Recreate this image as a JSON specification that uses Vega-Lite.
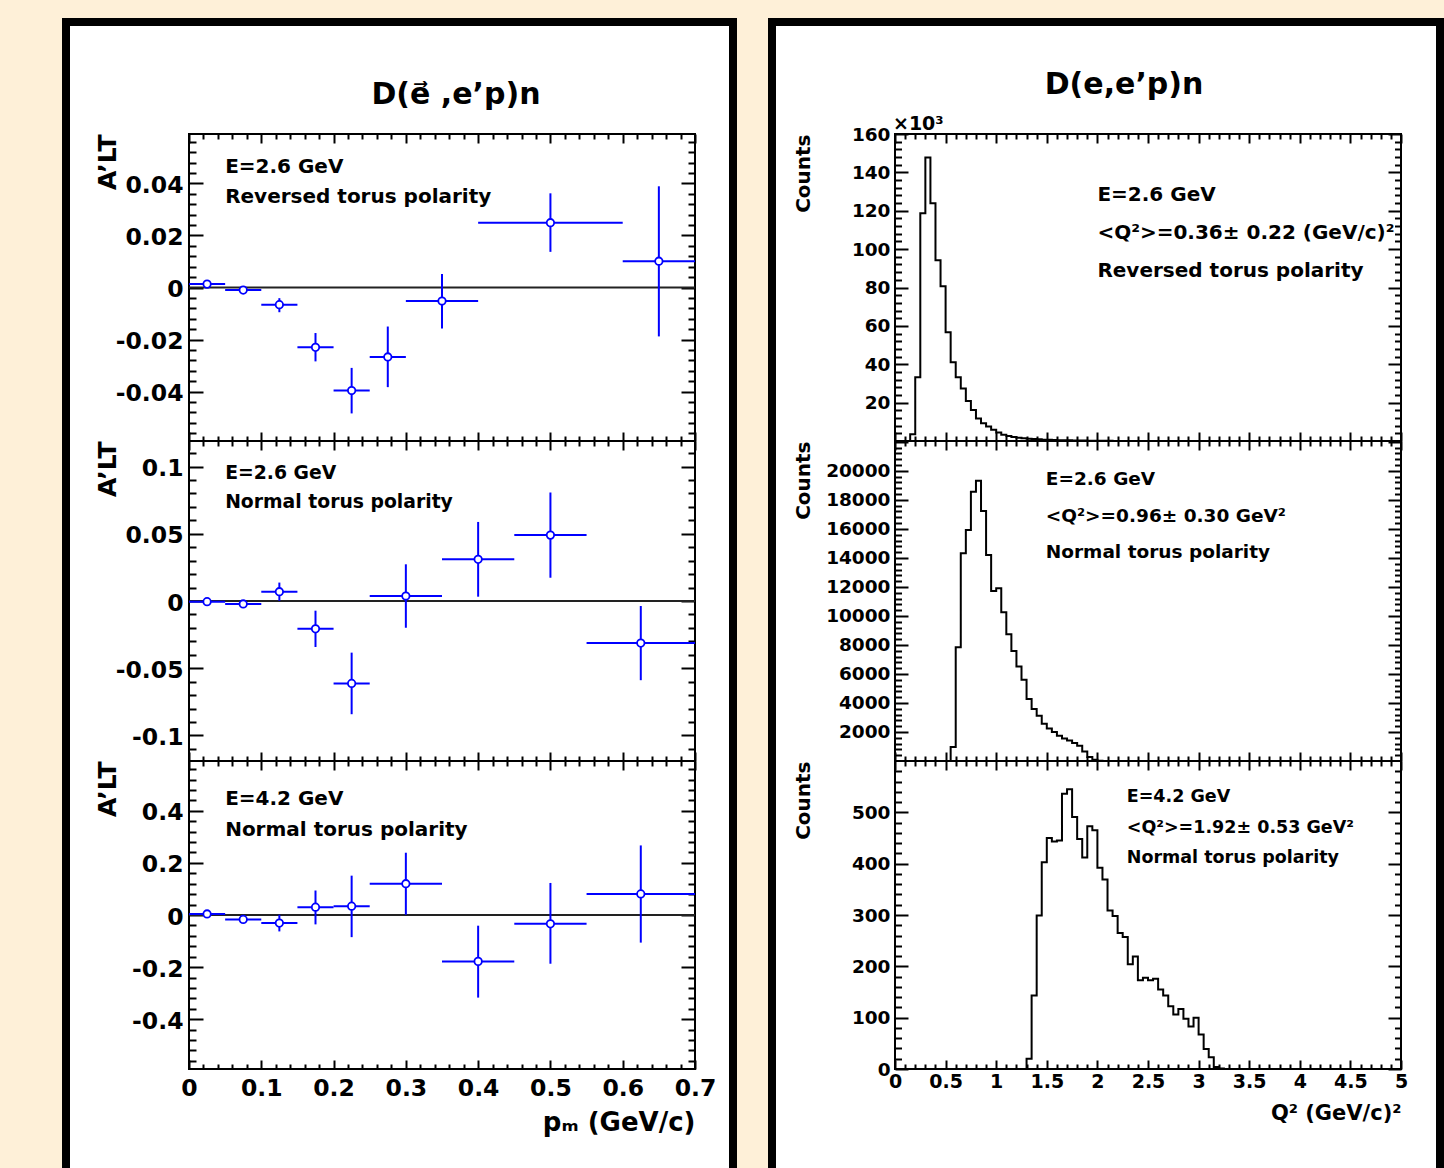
{
"$schema": "https://vega.github.io/schema/vega-lite/v6.json",
"background": "white",
"padding": 0,
"config": {
 "view": {"stroke": "black", "strokeWidth": 2},
 "axis": {"grid": false, "domain": false, "tickColor": "black", "tickWidth": 2, "labelFont": "DejaVu Sans", "labelFontWeight": "bold", "labelColor": "black", "titleFont": "DejaVu Sans", "titleFontWeight": "bold", "titleColor": "black", "labelFlush": false, "labelOverlap": false},
 "title": {"font": "DejaVu Sans", "fontWeight": "bold", "color": "black"},
 "text": {"font": "DejaVu Sans", "fontWeight": "bold", "color": "black"},
 "concat": {"spacing": 0}
},
"datasets": {
 "asym_t": [
  {"pm":0.025,"lo":0,"hi":0.05,"A":0.0013,"Alo":0.0008,"Ahi":0.0018},
  {"pm":0.075,"lo":0.05,"hi":0.1,"A":-0.001,"Alo":-0.0016,"Ahi":-0.0004},
  {"pm":0.125,"lo":0.1,"hi":0.15,"A":-0.0066,"Alo":-0.0095,"Ahi":-0.0041},
  {"pm":0.175,"lo":0.15,"hi":0.2,"A":-0.023,"Alo":-0.0284,"Ahi":-0.0175},
  {"pm":0.225,"lo":0.2,"hi":0.25,"A":-0.0396,"Alo":-0.0484,"Ahi":-0.0309},
  {"pm":0.275,"lo":0.25,"hi":0.3,"A":-0.0267,"Alo":-0.0383,"Ahi":-0.015},
  {"pm":0.35,"lo":0.3,"hi":0.4,"A":-0.0052,"Alo":-0.0158,"Ahi":0.0052},
  {"pm":0.5,"lo":0.4,"hi":0.6,"A":0.0249,"Alo":0.0137,"Ahi":0.0362},
  {"pm":0.65,"lo":0.6,"hi":0.7,"A":0.0101,"Alo":-0.0188,"Ahi":0.0389}
 ],
 "asym_m": [
  {"pm":0.025,"lo":0,"hi":0.05,"A":-0.0005,"Alo":-0.0012,"Ahi":0.0002},
  {"pm":0.075,"lo":0.05,"hi":0.1,"A":-0.0022,"Alo":-0.003,"Ahi":-0.0014},
  {"pm":0.125,"lo":0.1,"hi":0.15,"A":0.0069,"Alo":0.0001,"Ahi":0.0137},
  {"pm":0.175,"lo":0.15,"hi":0.2,"A":-0.0207,"Alo":-0.0342,"Ahi":-0.0072},
  {"pm":0.225,"lo":0.2,"hi":0.25,"A":-0.0613,"Alo":-0.0842,"Ahi":-0.0384},
  {"pm":0.3,"lo":0.25,"hi":0.35,"A":0.0037,"Alo":-0.0199,"Ahi":0.0273},
  {"pm":0.4,"lo":0.35,"hi":0.45,"A":0.031,"Alo":0.0032,"Ahi":0.0588},
  {"pm":0.5,"lo":0.45,"hi":0.55,"A":0.049,"Alo":0.0173,"Ahi":0.0807},
  {"pm":0.625,"lo":0.55,"hi":0.7,"A":-0.0313,"Alo":-0.0589,"Ahi":-0.0037}
 ],
 "asym_b": [
  {"pm":0.025,"lo":0,"hi":0.05,"A":0.004,"Alo":0.0,"Ahi":0.008},
  {"pm":0.075,"lo":0.05,"hi":0.1,"A":-0.017,"Alo":-0.022,"Ahi":-0.012},
  {"pm":0.125,"lo":0.1,"hi":0.15,"A":-0.031,"Alo":-0.063,"Ahi":0.001},
  {"pm":0.175,"lo":0.15,"hi":0.2,"A":0.03,"Alo":-0.036,"Ahi":0.094},
  {"pm":0.225,"lo":0.2,"hi":0.25,"A":0.034,"Alo":-0.085,"Ahi":0.151},
  {"pm":0.3,"lo":0.25,"hi":0.35,"A":0.12,"Alo":0.001,"Ahi":0.239},
  {"pm":0.4,"lo":0.35,"hi":0.45,"A":-0.178,"Alo":-0.317,"Ahi":-0.041},
  {"pm":0.5,"lo":0.45,"hi":0.55,"A":-0.034,"Alo":-0.187,"Ahi":0.123},
  {"pm":0.625,"lo":0.55,"hi":0.7,"A":0.081,"Alo":-0.106,"Ahi":0.267}
 ],
 "q2_t": [
  {"Q2":0,"counts_k":0},{"Q2":0.15,"counts_k":3.5},{"Q2":0.2,"counts_k":33.2},{"Q2":0.25,"counts_k":118.7},{"Q2":0.3,"counts_k":147.8},{"Q2":0.35,"counts_k":123.9},{"Q2":0.4,"counts_k":94.2},{"Q2":0.45,"counts_k":80.6},{"Q2":0.5,"counts_k":56.7},{"Q2":0.55,"counts_k":41.0},{"Q2":0.6,"counts_k":33.2},{"Q2":0.65,"counts_k":27.4},{"Q2":0.7,"counts_k":20.9},{"Q2":0.75,"counts_k":16.2},{"Q2":0.8,"counts_k":11.7},{"Q2":0.85,"counts_k":9.2},{"Q2":0.9,"counts_k":7.5},{"Q2":0.95,"counts_k":5.8},{"Q2":1.0,"counts_k":4.4},{"Q2":1.05,"counts_k":3.3},{"Q2":1.1,"counts_k":2.6},{"Q2":1.15,"counts_k":2.1},{"Q2":1.2,"counts_k":1.7},{"Q2":1.25,"counts_k":1.4},{"Q2":1.3,"counts_k":1.2},{"Q2":1.35,"counts_k":1.0},{"Q2":1.4,"counts_k":0.85},{"Q2":1.45,"counts_k":0.7},{"Q2":1.5,"counts_k":0.6},{"Q2":1.55,"counts_k":0.5},{"Q2":1.6,"counts_k":0.45},{"Q2":1.65,"counts_k":0.4},{"Q2":1.7,"counts_k":0.35},{"Q2":1.75,"counts_k":0.3},{"Q2":1.8,"counts_k":0.25},{"Q2":1.85,"counts_k":0.2},{"Q2":1.9,"counts_k":0.18},{"Q2":1.95,"counts_k":0.15},{"Q2":2.0,"counts_k":0.12},{"Q2":2.05,"counts_k":0.1},{"Q2":2.1,"counts_k":0.08},{"Q2":2.15,"counts_k":0.06},{"Q2":2.2,"counts_k":0.05},{"Q2":2.25,"counts_k":0.04},{"Q2":2.3,"counts_k":0.03},{"Q2":2.35,"counts_k":0.02},{"Q2":2.4,"counts_k":0.01},{"Q2":2.45,"counts_k":0},{"Q2":5,"counts_k":0}
 ],
 "q2_m": [
  {"Q2":0,"counts":0},{"Q2":0.55,"counts":963},{"Q2":0.6,"counts":7846},{"Q2":0.65,"counts":14315},{"Q2":0.7,"counts":15918},{"Q2":0.75,"counts":18555},{"Q2":0.8,"counts":19312},{"Q2":0.85,"counts":17226},{"Q2":0.9,"counts":14198},{"Q2":0.95,"counts":11720},{"Q2":1.0,"counts":11906},{"Q2":1.05,"counts":10254},{"Q2":1.1,"counts":8740},{"Q2":1.15,"counts":7591},{"Q2":1.2,"counts":6511},{"Q2":1.25,"counts":5595},{"Q2":1.3,"counts":4267},{"Q2":1.35,"counts":3579},{"Q2":1.4,"counts":3118},{"Q2":1.45,"counts":2567},{"Q2":1.5,"counts":2244},{"Q2":1.55,"counts":1996},{"Q2":1.6,"counts":1741},{"Q2":1.65,"counts":1556},{"Q2":1.7,"counts":1418},{"Q2":1.75,"counts":1239},{"Q2":1.8,"counts":1053},{"Q2":1.85,"counts":661},{"Q2":1.9,"counts":275},{"Q2":1.95,"counts":90},{"Q2":2.0,"counts":20},{"Q2":2.05,"counts":0},{"Q2":5,"counts":0}
 ],
 "q2_b": [
  {"Q2":0,"counts":0},{"Q2":1.3,"counts":20},{"Q2":1.35,"counts":143},{"Q2":1.4,"counts":299},{"Q2":1.45,"counts":403},{"Q2":1.5,"counts":450},{"Q2":1.55,"counts":443},{"Q2":1.6,"counts":445},{"Q2":1.65,"counts":536},{"Q2":1.7,"counts":545},{"Q2":1.75,"counts":491},{"Q2":1.8,"counts":448},{"Q2":1.85,"counts":412},{"Q2":1.9,"counts":473},{"Q2":1.95,"counts":465},{"Q2":2.0,"counts":392},{"Q2":2.05,"counts":369},{"Q2":2.1,"counts":309},{"Q2":2.15,"counts":298},{"Q2":2.2,"counts":265},{"Q2":2.25,"counts":257},{"Q2":2.3,"counts":204},{"Q2":2.35,"counts":219},{"Q2":2.4,"counts":173},{"Q2":2.45,"counts":178},{"Q2":2.5,"counts":173},{"Q2":2.55,"counts":176},{"Q2":2.6,"counts":155},{"Q2":2.65,"counts":143},{"Q2":2.7,"counts":122},{"Q2":2.75,"counts":106},{"Q2":2.8,"counts":117},{"Q2":2.85,"counts":98},{"Q2":2.9,"counts":83},{"Q2":2.95,"counts":100},{"Q2":3.0,"counts":67},{"Q2":3.05,"counts":39},{"Q2":3.1,"counts":23},{"Q2":3.15,"counts":4},{"Q2":3.2,"counts":1},{"Q2":3.25,"counts":0},{"Q2":5,"counts":0}
 ]
},
"columns": 12,
"spacing": 0,
"bounds": "flush",
"align": "each",
"concat": [
 {"width":62,"height":18,"data":{"values":[]},"mark":"point","view":{"fill":"#FEF0D8","stroke":null}},
 {"width":8,"height":18,"data":{"values":[]},"mark":"point","view":{"fill":"#FEF0D8","stroke":null}},
 {"width":119,"height":18,"data":{"values":[]},"mark":"point","view":{"fill":"#FEF0D8","stroke":null}},
 {"width":506,"height":18,"data":{"values":[]},"mark":"point","view":{"fill":"#FEF0D8","stroke":null}},
 {"width":34,"height":18,"data":{"values":[]},"mark":"point","view":{"fill":"#FEF0D8","stroke":null}},
 {"width":8,"height":18,"data":{"values":[]},"mark":"point","view":{"fill":"#FEF0D8","stroke":null}},
 {"width":31,"height":18,"data":{"values":[]},"mark":"point","view":{"fill":"#FEF0D8","stroke":null}},
 {"width":8,"height":18,"data":{"values":[]},"mark":"point","view":{"fill":"#FEF0D8","stroke":null}},
 {"width":119,"height":18,"data":{"values":[]},"mark":"point","view":{"fill":"#FEF0D8","stroke":null}},
 {"width":506,"height":18,"data":{"values":[]},"mark":"point","view":{"fill":"#FEF0D8","stroke":null}},
 {"width":35,"height":18,"data":{"values":[]},"mark":"point","view":{"fill":"#FEF0D8","stroke":null}},
 {"width":8,"height":18,"data":{"values":[]},"mark":"point","view":{"fill":"#FEF0D8","stroke":null}},

 {"width":62,"height":8,"data":{"values":[]},"mark":"point","view":{"fill":"#FEF0D8","stroke":null}},
 {"width":8,"height":8,"data":{"values":[]},"mark":"point","view":{"fill":"#000000","stroke":null}},
 {"width":119,"height":8,"data":{"values":[]},"mark":"point","view":{"fill":"#000000","stroke":null}},
 {"width":506,"height":8,"data":{"values":[]},"mark":"point","view":{"fill":"#000000","stroke":null}},
 {"width":34,"height":8,"data":{"values":[]},"mark":"point","view":{"fill":"#000000","stroke":null}},
 {"width":8,"height":8,"data":{"values":[]},"mark":"point","view":{"fill":"#000000","stroke":null}},
 {"width":31,"height":8,"data":{"values":[]},"mark":"point","view":{"fill":"#FEF0D8","stroke":null}},
 {"width":8,"height":8,"data":{"values":[]},"mark":"point","view":{"fill":"#000000","stroke":null}},
 {"width":119,"height":8,"data":{"values":[]},"mark":"point","view":{"fill":"#000000","stroke":null}},
 {"width":506,"height":8,"data":{"values":[]},"mark":"point","view":{"fill":"#000000","stroke":null}},
 {"width":35,"height":8,"data":{"values":[]},"mark":"point","view":{"fill":"#000000","stroke":null}},
 {"width":8,"height":8,"data":{"values":[]},"mark":"point","view":{"fill":"#000000","stroke":null}},

 {"width":62,"height":108,"data":{"values":[]},"mark":"point","view":{"fill":"#FEF0D8","stroke":null}},
 {"width":8,"height":108,"data":{"values":[]},"mark":"point","view":{"fill":"#000000","stroke":null}},
 {"width":119,"height":108,"data":{"values":[]},"mark":"point","view":{"stroke":null}},
 {"width":506,"height":108,"data":{"values":[]},"mark":"point","view":{"stroke":null}},
 {"width":34,"height":108,"data":{"values":[]},"mark":"point","view":{"stroke":null}},
 {"width":8,"height":108,"data":{"values":[]},"mark":"point","view":{"fill":"#000000","stroke":null}},
 {"width":31,"height":108,"data":{"values":[]},"mark":"point","view":{"fill":"#FEF0D8","stroke":null}},
 {"width":8,"height":108,"data":{"values":[]},"mark":"point","view":{"fill":"#000000","stroke":null}},
 {"width":119,"height":108,"data":{"values":[]},"mark":"point","view":{"stroke":null}},
 {"width":506,"height":108,"data":{"values":[]},"mark":"point","view":{"stroke":null}},
 {"width":35,"height":108,"data":{"values":[]},"mark":"point","view":{"stroke":null}},
 {"width":8,"height":108,"data":{"values":[]},"mark":"point","view":{"fill":"#000000","stroke":null}},

 {"width":62,"height":307,"data":{"values":[]},"mark":"point","view":{"fill":"#FEF0D8","stroke":null}},
 {"width":8,"height":307,"data":{"values":[]},"mark":"point","view":{"fill":"#000000","stroke":null}},
 {"width":119,"height":307,"data":{"values":[]},"mark":"point","view":{"stroke":null}},
 {
  "width": 506, "height": 307,
  "title": {"text": "D(e⃗ ,e’p)n", "fontSize": 30, "anchor": "middle", "frame": "group", "dx": 14, "dy": 30, "offset": 29, "baseline": "alphabetic"},
  "data": {"name": "asym_t"},
  "resolve": {"axis": {"x": "independent", "y": "independent"}},
  "layer": [
   {"data": {"values": [{"ref": 0}]}, "mark": {"type": "rule", "color": "#222222", "strokeWidth": 1.8},
    "encoding": {"y": {"field": "ref", "type": "quantitative", "scale": {"domain": [-0.059, 0.059], "nice": false, "zero": false}, "axis": null}}},
   {"mark": {"type": "rule", "color": "#0000ff", "strokeWidth": 2},
    "encoding": {
     "x": {"field": "lo", "type": "quantitative", "scale": {"domain": [0, 0.7], "nice": false, "zero": false}, "axis": {"orient": "bottom", "values": [0,0.1,0.2,0.3,0.4,0.5,0.6,0.7], "offset": -9, "tickSize": 9, "labels": false, "title": null}},
     "x2": {"field": "hi"},
     "y": {"field": "A", "type": "quantitative", "scale": {"domain": [-0.059, 0.059], "nice": false, "zero": false}, "axis": {"orient": "left", "values": [-0.04,-0.02,0,0.02,0.04], "offset": -14, "tickSize": 14, "labelPadding": 6, "labelFontSize": 23.5, "labelOffset": 2, "labelExpr": "''+datum.value", "title": "A’LT", "titleFontSize": 25, "titleAnchor": "end", "titlePadding": 15, "minExtent": 68, "maxExtent": 68}}}},
   {"mark": {"type": "rule", "color": "#0000ff", "strokeWidth": 2},
    "encoding": {
     "x": {"field": "pm", "type": "quantitative", "scale": {"domain": [0, 0.7], "nice": false, "zero": false}, "axis": {"orient": "bottom", "values": [0.02,0.04,0.06,0.08,0.12,0.14,0.16,0.18,0.22,0.24,0.26,0.28,0.32,0.34,0.36,0.38,0.42,0.44,0.46,0.48,0.52,0.54,0.56,0.58,0.62,0.64,0.66,0.68], "offset": -5, "tickSize": 5, "labels": false, "title": null}},
     "y": {"field": "Alo", "type": "quantitative", "scale": {"domain": [-0.059, 0.059], "nice": false, "zero": false}, "axis": {"orient": "left", "values": [-0.056,-0.052,-0.048,-0.044,-0.036,-0.032,-0.028,-0.024,-0.016,-0.012,-0.008,-0.004,0.004,0.008,0.012,0.016,0.024,0.028,0.032,0.036,0.044,0.048,0.052,0.056], "offset": -7, "tickSize": 7, "labels": false, "title": null}},
     "y2": {"field": "Ahi"}}},
   {"mark": {"type": "point", "shape": "circle", "fill": "white", "stroke": "#0000ff", "strokeWidth": 1.8, "size": 55, "opacity": 1},
    "encoding": {
     "x": {"field": "pm", "type": "quantitative", "scale": {"domain": [0, 0.7], "nice": false, "zero": false}, "axis": {"orient": "top", "values": [0,0.1,0.2,0.3,0.4,0.5,0.6,0.7], "offset": -9, "tickSize": 9, "labels": false, "title": null}},
     "y": {"field": "A", "type": "quantitative", "scale": {"domain": [-0.059, 0.059], "nice": false, "zero": false}, "axis": {"orient": "right", "values": [-0.04,-0.02,0,0.02,0.04], "offset": -14, "tickSize": 14, "labels": false, "title": null}}}},
   {"mark": {"type": "point", "opacity": 0},
    "encoding": {
     "x": {"field": "pm", "type": "quantitative", "scale": {"domain": [0, 0.7], "nice": false, "zero": false}, "axis": {"orient": "top", "values": [0.02,0.04,0.06,0.08,0.12,0.14,0.16,0.18,0.22,0.24,0.26,0.28,0.32,0.34,0.36,0.38,0.42,0.44,0.46,0.48,0.52,0.54,0.56,0.58,0.62,0.64,0.66,0.68], "offset": -5, "tickSize": 5, "labels": false, "title": null}},
     "y": {"field": "A", "type": "quantitative", "scale": {"domain": [-0.059, 0.059], "nice": false, "zero": false}, "axis": {"orient": "right", "values": [-0.056,-0.052,-0.048,-0.044,-0.036,-0.032,-0.028,-0.024,-0.016,-0.012,-0.008,-0.004,0.004,0.008,0.012,0.016,0.024,0.028,0.032,0.036,0.044,0.048,0.052,0.056], "offset": -7, "tickSize": 7, "labels": false, "title": null}}}},
   {"data": {"values": [{"note": 1}]}, "mark": {"type": "text", "align": "left", "baseline": "alphabetic", "fontSize": 20, "lineHeight": 29.4, "text": ["E=2.6 GeV", "Reversed torus polarity"]},
    "encoding": {"x": {"datum": 0.05, "type": "quantitative", "scale": {"domain": [0, 0.7], "nice": false, "zero": false}, "axis": null}, "y": {"datum": 0.0439, "type": "quantitative", "scale": {"domain": [-0.059, 0.059], "nice": false, "zero": false}, "axis": null}}}
  ]
 },
 {"width":34,"height":307,"data":{"values":[]},"mark":"point","view":{"stroke":null}},
 {"width":8,"height":307,"data":{"values":[]},"mark":"point","view":{"fill":"#000000","stroke":null}},
 {"width":31,"height":307,"data":{"values":[]},"mark":"point","view":{"fill":"#FEF0D8","stroke":null}},
 {"width":8,"height":307,"data":{"values":[]},"mark":"point","view":{"fill":"#000000","stroke":null}},
 {"width":119,"height":307,"data":{"values":[]},"mark":"point","view":{"stroke":null}},
 {
  "width": 506, "height": 307,
  "title": {"text": "D(e,e’p)n", "fontSize": 30, "anchor": "middle", "frame": "group", "dx": -24, "dy": 35, "offset": 26, "baseline": "alphabetic"},
  "data": {"name": "q2_t"},
  "resolve": {"axis": {"x": "independent", "y": "independent"}},
  "layer": [
   {"mark": {"type": "line", "interpolate": "step-after", "color": "black", "strokeWidth": 2},
    "encoding": {
     "x": {"field": "Q2", "type": "quantitative", "scale": {"domain": [0, 5], "nice": false, "zero": false}, "axis": {"orient": "bottom", "values": [0,0.5,1,1.5,2,2.5,3,3.5,4,4.5,5], "offset": -9, "tickSize": 9, "labels": false, "title": null}},
     "y": {"field": "counts_k", "type": "quantitative", "scale": {"domain": [0, 160], "nice": false, "zero": false}, "axis": {"orient": "left", "values": [20,40,60,80,100,120,140,160], "offset": -13, "tickSize": 13, "labelPadding": 5, "labelFontSize": 18.5, "labelExpr": "''+datum.value", "title": "Counts", "titleFontSize": 20, "titleAnchor": "end", "titlePadding": 7, "minExtent": 88, "maxExtent": 88}}}},
   {"mark": {"type": "point", "opacity": 0},
    "encoding": {
     "x": {"field": "Q2", "type": "quantitative", "scale": {"domain": [0, 5], "nice": false, "zero": false}, "axis": {"orient": "bottom", "values": [0.1,0.2,0.3,0.4,0.6,0.7,0.8,0.9,1.1,1.2,1.3,1.4,1.6,1.7,1.8,1.9,2.1,2.2,2.3,2.4,2.6,2.7,2.8,2.9,3.1,3.2,3.3,3.4,3.6,3.7,3.8,3.9,4.1,4.2,4.3,4.4,4.6,4.7,4.8,4.9], "offset": -5, "tickSize": 5, "labels": false, "title": null}},
     "y": {"field": "counts_k", "type": "quantitative", "scale": {"domain": [0, 160], "nice": false, "zero": false}, "axis": {"orient": "left", "values": [4,8,12,16,24,28,32,36,44,48,52,56,64,68,72,76,84,88,92,96,104,108,112,116,124,128,132,136,144,148,152,156], "offset": -6.5, "tickSize": 6.5, "labels": false, "title": null}}}},
   {"mark": {"type": "point", "opacity": 0},
    "encoding": {
     "x": {"field": "Q2", "type": "quantitative", "scale": {"domain": [0, 5], "nice": false, "zero": false}, "axis": {"orient": "top", "values": [0,0.5,1,1.5,2,2.5,3,3.5,4,4.5,5], "offset": -9, "tickSize": 9, "labels": false, "title": null}},
     "y": {"field": "counts_k", "type": "quantitative", "scale": {"domain": [0, 160], "nice": false, "zero": false}, "axis": {"orient": "right", "values": [20,40,60,80,100,120,140,160], "offset": -13, "tickSize": 13, "labels": false, "title": null}}}},
   {"mark": {"type": "point", "opacity": 0},
    "encoding": {
     "x": {"field": "Q2", "type": "quantitative", "scale": {"domain": [0, 5], "nice": false, "zero": false}, "axis": {"orient": "top", "values": [0.1,0.2,0.3,0.4,0.6,0.7,0.8,0.9,1.1,1.2,1.3,1.4,1.6,1.7,1.8,1.9,2.1,2.2,2.3,2.4,2.6,2.7,2.8,2.9,3.1,3.2,3.3,3.4,3.6,3.7,3.8,3.9,4.1,4.2,4.3,4.4,4.6,4.7,4.8,4.9], "offset": -5, "tickSize": 5, "labels": false, "title": null}},
     "y": {"field": "counts_k", "type": "quantitative", "scale": {"domain": [0, 160], "nice": false, "zero": false}, "axis": {"orient": "right", "values": [4,8,12,16,24,28,32,36,44,48,52,56,64,68,72,76,84,88,92,96,104,108,112,116,124,128,132,136,144,148,152,156], "offset": -6.5, "tickSize": 6.5, "labels": false, "title": null}}}},
   {"data": {"values": [{"note": 1}]}, "mark": {"type": "text", "align": "left", "baseline": "alphabetic", "fontSize": 20, "lineHeight": 38, "text": ["E=2.6 GeV", "<Q²>=0.36± 0.22 (GeV/c)²", "Reversed torus polarity"]},
    "encoding": {"x": {"datum": 2.0, "type": "quantitative", "scale": {"domain": [0, 5], "nice": false, "zero": false}, "axis": null}, "y": {"datum": 125.2, "type": "quantitative", "scale": {"domain": [0, 160], "nice": false, "zero": false}, "axis": null}}},
   {"data": {"values": [{"note": 1}]}, "mark": {"type": "text", "align": "left", "baseline": "alphabetic", "fontSize": 19, "text": "×10³"},
    "encoding": {"x": {"datum": -0.02, "type": "quantitative", "scale": {"domain": [0, 5], "nice": false, "zero": false}, "axis": null}, "y": {"datum": 162, "type": "quantitative", "scale": {"domain": [0, 160], "nice": false, "zero": false}, "axis": null}}}
  ]
 },
 {"width":35,"height":307,"data":{"values":[]},"mark":"point","view":{"stroke":null}},
 {"width":8,"height":307,"data":{"values":[]},"mark":"point","view":{"fill":"#000000","stroke":null}},

 {"width":62,"height":320,"data":{"values":[]},"mark":"point","view":{"fill":"#FEF0D8","stroke":null}},
 {"width":8,"height":320,"data":{"values":[]},"mark":"point","view":{"fill":"#000000","stroke":null}},
 {"width":119,"height":320,"data":{"values":[]},"mark":"point","view":{"stroke":null}},
 {
  "width": 506, "height": 320,
  "data": {"name": "asym_m"},
  "resolve": {"axis": {"x": "independent", "y": "independent"}},
  "layer": [
   {"data": {"values": [{"ref": 0}]}, "mark": {"type": "rule", "color": "#222222", "strokeWidth": 1.8},
    "encoding": {"y": {"field": "ref", "type": "quantitative", "scale": {"domain": [-0.119, 0.119], "nice": false, "zero": false}, "axis": null}}},
   {"mark": {"type": "rule", "color": "#0000ff", "strokeWidth": 2},
    "encoding": {
     "x": {"field": "lo", "type": "quantitative", "scale": {"domain": [0, 0.7], "nice": false, "zero": false}, "axis": {"orient": "bottom", "values": [0,0.1,0.2,0.3,0.4,0.5,0.6,0.7], "offset": -9, "tickSize": 9, "labels": false, "title": null}},
     "x2": {"field": "hi"},
     "y": {"field": "A", "type": "quantitative", "scale": {"domain": [-0.119, 0.119], "nice": false, "zero": false}, "axis": {"orient": "left", "values": [-0.1,-0.05,0,0.05,0.1], "offset": -14, "tickSize": 14, "labelPadding": 6, "labelFontSize": 23.5, "labelOffset": 2, "labelExpr": "''+datum.value", "title": "A’LT", "titleFontSize": 25, "titleAnchor": "end", "titlePadding": 15, "minExtent": 68, "maxExtent": 68}}}},
   {"mark": {"type": "rule", "color": "#0000ff", "strokeWidth": 2},
    "encoding": {
     "x": {"field": "pm", "type": "quantitative", "scale": {"domain": [0, 0.7], "nice": false, "zero": false}, "axis": {"orient": "bottom", "values": [0.02,0.04,0.06,0.08,0.12,0.14,0.16,0.18,0.22,0.24,0.26,0.28,0.32,0.34,0.36,0.38,0.42,0.44,0.46,0.48,0.52,0.54,0.56,0.58,0.62,0.64,0.66,0.68], "offset": -5, "tickSize": 5, "labels": false, "title": null}},
     "y": {"field": "Alo", "type": "quantitative", "scale": {"domain": [-0.119, 0.119], "nice": false, "zero": false}, "axis": {"orient": "left", "values": [-0.11,-0.09,-0.08,-0.07,-0.06,-0.04,-0.03,-0.02,-0.01,0.01,0.02,0.03,0.04,0.06,0.07,0.08,0.09,0.11], "offset": -7, "tickSize": 7, "labels": false, "title": null}},
     "y2": {"field": "Ahi"}}},
   {"mark": {"type": "point", "shape": "circle", "fill": "white", "stroke": "#0000ff", "strokeWidth": 1.8, "size": 55, "opacity": 1},
    "encoding": {
     "x": {"field": "pm", "type": "quantitative", "scale": {"domain": [0, 0.7], "nice": false, "zero": false}, "axis": {"orient": "top", "values": [0,0.1,0.2,0.3,0.4,0.5,0.6,0.7], "offset": -9, "tickSize": 9, "labels": false, "title": null}},
     "y": {"field": "A", "type": "quantitative", "scale": {"domain": [-0.119, 0.119], "nice": false, "zero": false}, "axis": {"orient": "right", "values": [-0.1,-0.05,0,0.05,0.1], "offset": -14, "tickSize": 14, "labels": false, "title": null}}}},
   {"mark": {"type": "point", "opacity": 0},
    "encoding": {
     "x": {"field": "pm", "type": "quantitative", "scale": {"domain": [0, 0.7], "nice": false, "zero": false}, "axis": {"orient": "top", "values": [0.02,0.04,0.06,0.08,0.12,0.14,0.16,0.18,0.22,0.24,0.26,0.28,0.32,0.34,0.36,0.38,0.42,0.44,0.46,0.48,0.52,0.54,0.56,0.58,0.62,0.64,0.66,0.68], "offset": -5, "tickSize": 5, "labels": false, "title": null}},
     "y": {"field": "A", "type": "quantitative", "scale": {"domain": [-0.119, 0.119], "nice": false, "zero": false}, "axis": {"orient": "right", "values": [-0.11,-0.09,-0.08,-0.07,-0.06,-0.04,-0.03,-0.02,-0.01,0.01,0.02,0.03,0.04,0.06,0.07,0.08,0.09,0.11], "offset": -7, "tickSize": 7, "labels": false, "title": null}}}},
   {"data": {"values": [{"note": 1}]}, "mark": {"type": "text", "align": "left", "baseline": "alphabetic", "fontSize": 18.8, "lineHeight": 28.4, "text": ["E=2.6 GeV", "Normal torus polarity"]},
    "encoding": {"x": {"datum": 0.05, "type": "quantitative", "scale": {"domain": [0, 0.7], "nice": false, "zero": false}, "axis": null}, "y": {"datum": 0.0905, "type": "quantitative", "scale": {"domain": [-0.119, 0.119], "nice": false, "zero": false}, "axis": null}}}
  ]
 },
 {"width":34,"height":320,"data":{"values":[]},"mark":"point","view":{"stroke":null}},
 {"width":8,"height":320,"data":{"values":[]},"mark":"point","view":{"fill":"#000000","stroke":null}},
 {"width":31,"height":320,"data":{"values":[]},"mark":"point","view":{"fill":"#FEF0D8","stroke":null}},
 {"width":8,"height":320,"data":{"values":[]},"mark":"point","view":{"fill":"#000000","stroke":null}},
 {"width":119,"height":320,"data":{"values":[]},"mark":"point","view":{"stroke":null}},
 {
  "width": 506, "height": 320,
  "data": {"name": "q2_m"},
  "resolve": {"axis": {"x": "independent", "y": "independent"}},
  "layer": [
   {"mark": {"type": "line", "interpolate": "step-after", "color": "black", "strokeWidth": 2},
    "encoding": {
     "x": {"field": "Q2", "type": "quantitative", "scale": {"domain": [0, 5], "nice": false, "zero": false}, "axis": {"orient": "bottom", "values": [0,0.5,1,1.5,2,2.5,3,3.5,4,4.5,5], "offset": -9, "tickSize": 9, "labels": false, "title": null}},
     "y": {"field": "counts", "type": "quantitative", "scale": {"domain": [0, 22060], "nice": false, "zero": false}, "axis": {"orient": "left", "values": [2000,4000,6000,8000,10000,12000,14000,16000,18000,20000,22000], "offset": -13, "tickSize": 13, "labelPadding": 5, "labelFontSize": 18.5, "labelExpr": "datum.value > 21000 ? '' : ''+datum.value", "title": "Counts", "titleFontSize": 20, "titleAnchor": "end", "titlePadding": 7, "minExtent": 88, "maxExtent": 88}}}},
   {"mark": {"type": "point", "opacity": 0},
    "encoding": {
     "x": {"field": "Q2", "type": "quantitative", "scale": {"domain": [0, 5], "nice": false, "zero": false}, "axis": {"orient": "bottom", "values": [0.1,0.2,0.3,0.4,0.6,0.7,0.8,0.9,1.1,1.2,1.3,1.4,1.6,1.7,1.8,1.9,2.1,2.2,2.3,2.4,2.6,2.7,2.8,2.9,3.1,3.2,3.3,3.4,3.6,3.7,3.8,3.9,4.1,4.2,4.3,4.4,4.6,4.7,4.8,4.9], "offset": -5, "tickSize": 5, "labels": false, "title": null}},
     "y": {"field": "counts", "type": "quantitative", "scale": {"domain": [0, 22060], "nice": false, "zero": false}, "axis": {"orient": "left", "values": [400,800,1200,1600,2400,2800,3200,3600,4400,4800,5200,5600,6400,6800,7200,7600,8400,8800,9200,9600,10400,10800,11200,11600,12400,12800,13200,13600,14400,14800,15200,15600,16400,16800,17200,17600,18400,18800,19200,19600,20400,20800,21200,21600], "offset": -6.5, "tickSize": 6.5, "labels": false, "title": null}}}},
   {"mark": {"type": "point", "opacity": 0},
    "encoding": {
     "x": {"field": "Q2", "type": "quantitative", "scale": {"domain": [0, 5], "nice": false, "zero": false}, "axis": {"orient": "top", "values": [0,0.5,1,1.5,2,2.5,3,3.5,4,4.5,5], "offset": -9, "tickSize": 9, "labels": false, "title": null}},
     "y": {"field": "counts", "type": "quantitative", "scale": {"domain": [0, 22060], "nice": false, "zero": false}, "axis": {"orient": "right", "values": [2000,4000,6000,8000,10000,12000,14000,16000,18000,20000,22000], "offset": -13, "tickSize": 13, "labels": false, "title": null}}}},
   {"mark": {"type": "point", "opacity": 0},
    "encoding": {
     "x": {"field": "Q2", "type": "quantitative", "scale": {"domain": [0, 5], "nice": false, "zero": false}, "axis": {"orient": "top", "values": [0.1,0.2,0.3,0.4,0.6,0.7,0.8,0.9,1.1,1.2,1.3,1.4,1.6,1.7,1.8,1.9,2.1,2.2,2.3,2.4,2.6,2.7,2.8,2.9,3.1,3.2,3.3,3.4,3.6,3.7,3.8,3.9,4.1,4.2,4.3,4.4,4.6,4.7,4.8,4.9], "offset": -5, "tickSize": 5, "labels": false, "title": null}},
     "y": {"field": "counts", "type": "quantitative", "scale": {"domain": [0, 22060], "nice": false, "zero": false}, "axis": {"orient": "right", "values": [400,800,1200,1600,2400,2800,3200,3600,4400,4800,5200,5600,6400,6800,7200,7600,8400,8800,9200,9600,10400,10800,11200,11600,12400,12800,13200,13600,14400,14800,15200,15600,16400,16800,17200,17600,18400,18800,19200,19600,20400,20800,21200,21600], "offset": -6.5, "tickSize": 6.5, "labels": false, "title": null}}}},
   {"data": {"values": [{"note": 1}]}, "mark": {"type": "text", "align": "left", "baseline": "alphabetic", "fontSize": 18.5, "lineHeight": 36.7, "text": ["E=2.6 GeV", "<Q²>=0.96± 0.30 GeV²", "Normal torus polarity"]},
    "encoding": {"x": {"datum": 1.49, "type": "quantitative", "scale": {"domain": [0, 5], "nice": false, "zero": false}, "axis": null}, "y": {"datum": 19026, "type": "quantitative", "scale": {"domain": [0, 22060], "nice": false, "zero": false}, "axis": null}}}
  ]
 },
 {"width":35,"height":320,"data":{"values":[]},"mark":"point","view":{"stroke":null}},
 {"width":8,"height":320,"data":{"values":[]},"mark":"point","view":{"fill":"#000000","stroke":null}},

 {"width":62,"height":308,"data":{"values":[]},"mark":"point","view":{"fill":"#FEF0D8","stroke":null}},
 {"width":8,"height":308,"data":{"values":[]},"mark":"point","view":{"fill":"#000000","stroke":null}},
 {"width":119,"height":308,"data":{"values":[]},"mark":"point","view":{"stroke":null}},
 {
  "width": 506, "height": 308,
  "data": {"name": "asym_b"},
  "resolve": {"axis": {"x": "independent", "y": "independent"}},
  "layer": [
   {"data": {"values": [{"ref": 0}]}, "mark": {"type": "rule", "color": "#222222", "strokeWidth": 1.8},
    "encoding": {"y": {"field": "ref", "type": "quantitative", "scale": {"domain": [-0.591, 0.591], "nice": false, "zero": false}, "axis": null}}},
   {"mark": {"type": "rule", "color": "#0000ff", "strokeWidth": 2},
    "encoding": {
     "x": {"field": "lo", "type": "quantitative", "scale": {"domain": [0, 0.7], "nice": false, "zero": false}, "axis": {"orient": "bottom", "values": [0,0.1,0.2,0.3,0.4,0.5,0.6,0.7], "offset": -9, "tickSize": 9, "labelPadding": 7, "labelFontSize": 23.5, "labelExpr": "''+datum.value", "title": "pₘ (GeV/c)", "titleFontSize": 26, "titleAnchor": "end", "titlePadding": 9, "minExtent": 40, "maxExtent": 40}},
     "x2": {"field": "hi"},
     "y": {"field": "A", "type": "quantitative", "scale": {"domain": [-0.591, 0.591], "nice": false, "zero": false}, "axis": {"orient": "left", "values": [-0.4,-0.2,0,0.2,0.4], "offset": -14, "tickSize": 14, "labelPadding": 6, "labelFontSize": 23.5, "labelOffset": 2, "labelExpr": "''+datum.value", "title": "A’LT", "titleFontSize": 25, "titleAnchor": "end", "titlePadding": 15, "minExtent": 68, "maxExtent": 68}}}},
   {"mark": {"type": "rule", "color": "#0000ff", "strokeWidth": 2},
    "encoding": {
     "x": {"field": "pm", "type": "quantitative", "scale": {"domain": [0, 0.7], "nice": false, "zero": false}, "axis": {"orient": "bottom", "values": [0.02,0.04,0.06,0.08,0.12,0.14,0.16,0.18,0.22,0.24,0.26,0.28,0.32,0.34,0.36,0.38,0.42,0.44,0.46,0.48,0.52,0.54,0.56,0.58,0.62,0.64,0.66,0.68], "offset": -5, "tickSize": 5, "labels": false, "title": null}},
     "y": {"field": "Alo", "type": "quantitative", "scale": {"domain": [-0.591, 0.591], "nice": false, "zero": false}, "axis": {"orient": "left", "values": [-0.56,-0.52,-0.48,-0.44,-0.36,-0.32,-0.28,-0.24,-0.16,-0.12,-0.08,-0.04,0.04,0.08,0.12,0.16,0.24,0.28,0.32,0.36,0.44,0.48,0.52,0.56], "offset": -7, "tickSize": 7, "labels": false, "title": null}},
     "y2": {"field": "Ahi"}}},
   {"mark": {"type": "point", "shape": "circle", "fill": "white", "stroke": "#0000ff", "strokeWidth": 1.8, "size": 55, "opacity": 1},
    "encoding": {
     "x": {"field": "pm", "type": "quantitative", "scale": {"domain": [0, 0.7], "nice": false, "zero": false}, "axis": {"orient": "top", "values": [0,0.1,0.2,0.3,0.4,0.5,0.6,0.7], "offset": -9, "tickSize": 9, "labels": false, "title": null}},
     "y": {"field": "A", "type": "quantitative", "scale": {"domain": [-0.591, 0.591], "nice": false, "zero": false}, "axis": {"orient": "right", "values": [-0.4,-0.2,0,0.2,0.4], "offset": -14, "tickSize": 14, "labels": false, "title": null}}}},
   {"mark": {"type": "point", "opacity": 0},
    "encoding": {
     "x": {"field": "pm", "type": "quantitative", "scale": {"domain": [0, 0.7], "nice": false, "zero": false}, "axis": {"orient": "top", "values": [0.02,0.04,0.06,0.08,0.12,0.14,0.16,0.18,0.22,0.24,0.26,0.28,0.32,0.34,0.36,0.38,0.42,0.44,0.46,0.48,0.52,0.54,0.56,0.58,0.62,0.64,0.66,0.68], "offset": -5, "tickSize": 5, "labels": false, "title": null}},
     "y": {"field": "A", "type": "quantitative", "scale": {"domain": [-0.591, 0.591], "nice": false, "zero": false}, "axis": {"orient": "right", "values": [-0.56,-0.52,-0.48,-0.44,-0.36,-0.32,-0.28,-0.24,-0.16,-0.12,-0.08,-0.04,0.04,0.08,0.12,0.16,0.24,0.28,0.32,0.36,0.44,0.48,0.52,0.56], "offset": -7, "tickSize": 7, "labels": false, "title": null}}}},
   {"data": {"values": [{"note": 1}]}, "mark": {"type": "text", "align": "left", "baseline": "alphabetic", "fontSize": 20, "lineHeight": 31, "text": ["E=4.2 GeV", "Normal torus polarity"]},
    "encoding": {"x": {"datum": 0.05, "type": "quantitative", "scale": {"domain": [0, 0.7], "nice": false, "zero": false}, "axis": null}, "y": {"datum": 0.422, "type": "quantitative", "scale": {"domain": [-0.591, 0.591], "nice": false, "zero": false}, "axis": null}}}
  ]
 },
 {"width":34,"height":308,"data":{"values":[]},"mark":"point","view":{"stroke":null}},
 {"width":8,"height":308,"data":{"values":[]},"mark":"point","view":{"fill":"#000000","stroke":null}},
 {"width":31,"height":308,"data":{"values":[]},"mark":"point","view":{"fill":"#FEF0D8","stroke":null}},
 {"width":8,"height":308,"data":{"values":[]},"mark":"point","view":{"fill":"#000000","stroke":null}},
 {"width":119,"height":308,"data":{"values":[]},"mark":"point","view":{"stroke":null}},
 {
  "width": 506, "height": 308,
  "data": {"name": "q2_b"},
  "resolve": {"axis": {"x": "independent", "y": "independent"}},
  "layer": [
   {"mark": {"type": "line", "interpolate": "step-after", "color": "black", "strokeWidth": 2},
    "encoding": {
     "x": {"field": "Q2", "type": "quantitative", "scale": {"domain": [0, 5], "nice": false, "zero": false}, "axis": {"orient": "bottom", "values": [0,0.5,1,1.5,2,2.5,3,3.5,4,4.5,5], "offset": -9, "tickSize": 9, "labelPadding": 3, "labelFontSize": 19, "labelExpr": "''+datum.value", "title": "Q² (GeV/c)²", "titleFontSize": 21, "titleAnchor": "end", "titlePadding": 9, "minExtent": 33, "maxExtent": 33}},
     "y": {"field": "counts", "type": "quantitative", "scale": {"domain": [0, 600], "nice": false, "zero": false}, "axis": {"orient": "left", "values": [0,100,200,300,400,500], "offset": -13, "tickSize": 13, "labelPadding": 5, "labelFontSize": 18.5, "labelExpr": "''+datum.value", "title": "Counts", "titleFontSize": 20, "titleAnchor": "end", "titlePadding": 7, "minExtent": 88, "maxExtent": 88}}}},
   {"mark": {"type": "point", "opacity": 0},
    "encoding": {
     "x": {"field": "Q2", "type": "quantitative", "scale": {"domain": [0, 5], "nice": false, "zero": false}, "axis": {"orient": "bottom", "values": [0.1,0.2,0.3,0.4,0.6,0.7,0.8,0.9,1.1,1.2,1.3,1.4,1.6,1.7,1.8,1.9,2.1,2.2,2.3,2.4,2.6,2.7,2.8,2.9,3.1,3.2,3.3,3.4,3.6,3.7,3.8,3.9,4.1,4.2,4.3,4.4,4.6,4.7,4.8,4.9], "offset": -5, "tickSize": 5, "labels": false, "title": null}},
     "y": {"field": "counts", "type": "quantitative", "scale": {"domain": [0, 600], "nice": false, "zero": false}, "axis": {"orient": "left", "values": [20,40,60,80,120,140,160,180,220,240,260,280,320,340,360,380,420,440,460,480,520,540,560,580], "offset": -6.5, "tickSize": 6.5, "labels": false, "title": null}}}},
   {"mark": {"type": "point", "opacity": 0},
    "encoding": {
     "x": {"field": "Q2", "type": "quantitative", "scale": {"domain": [0, 5], "nice": false, "zero": false}, "axis": {"orient": "top", "values": [0,0.5,1,1.5,2,2.5,3,3.5,4,4.5,5], "offset": -9, "tickSize": 9, "labels": false, "title": null}},
     "y": {"field": "counts", "type": "quantitative", "scale": {"domain": [0, 600], "nice": false, "zero": false}, "axis": {"orient": "right", "values": [0,100,200,300,400,500], "offset": -13, "tickSize": 13, "labels": false, "title": null}}}},
   {"mark": {"type": "point", "opacity": 0},
    "encoding": {
     "x": {"field": "Q2", "type": "quantitative", "scale": {"domain": [0, 5], "nice": false, "zero": false}, "axis": {"orient": "top", "values": [0.1,0.2,0.3,0.4,0.6,0.7,0.8,0.9,1.1,1.2,1.3,1.4,1.6,1.7,1.8,1.9,2.1,2.2,2.3,2.4,2.6,2.7,2.8,2.9,3.1,3.2,3.3,3.4,3.6,3.7,3.8,3.9,4.1,4.2,4.3,4.4,4.6,4.7,4.8,4.9], "offset": -5, "tickSize": 5, "labels": false, "title": null}},
     "y": {"field": "counts", "type": "quantitative", "scale": {"domain": [0, 600], "nice": false, "zero": false}, "axis": {"orient": "right", "values": [20,40,60,80,120,140,160,180,220,240,260,280,320,340,360,380,420,440,460,480,520,540,560,580], "offset": -6.5, "tickSize": 6.5, "labels": false, "title": null}}}},
   {"data": {"values": [{"note": 1}]}, "mark": {"type": "text", "align": "left", "baseline": "alphabetic", "fontSize": 17.5, "lineHeight": 30.5, "text": ["E=4.2 GeV", "<Q²>=1.92± 0.53 GeV²", "Normal torus polarity"]},
    "encoding": {"x": {"datum": 2.29, "type": "quantitative", "scale": {"domain": [0, 5], "nice": false, "zero": false}, "axis": null}, "y": {"datum": 520, "type": "quantitative", "scale": {"domain": [0, 600], "nice": false, "zero": false}, "axis": null}}}
  ]
 },
 {"width":35,"height":308,"data":{"values":[]},"mark":"point","view":{"stroke":null}},
 {"width":8,"height":308,"data":{"values":[]},"mark":"point","view":{"fill":"#000000","stroke":null}},

 {"width":62,"height":99,"data":{"values":[]},"mark":"point","view":{"fill":"#FEF0D8","stroke":null}},
 {"width":8,"height":99,"data":{"values":[]},"mark":"point","view":{"fill":"#000000","stroke":null}},
 {"width":119,"height":99,"data":{"values":[]},"mark":"point","view":{"stroke":null}},
 {"width":506,"height":99,"data":{"values":[]},"mark":"point","view":{"stroke":null}},
 {"width":34,"height":99,"data":{"values":[]},"mark":"point","view":{"stroke":null}},
 {"width":8,"height":99,"data":{"values":[]},"mark":"point","view":{"fill":"#000000","stroke":null}},
 {"width":31,"height":99,"data":{"values":[]},"mark":"point","view":{"fill":"#FEF0D8","stroke":null}},
 {"width":8,"height":99,"data":{"values":[]},"mark":"point","view":{"fill":"#000000","stroke":null}},
 {"width":119,"height":99,"data":{"values":[]},"mark":"point","view":{"stroke":null}},
 {"width":506,"height":99,"data":{"values":[]},"mark":"point","view":{"stroke":null}},
 {"width":35,"height":99,"data":{"values":[]},"mark":"point","view":{"stroke":null}},
 {"width":8,"height":99,"data":{"values":[]},"mark":"point","view":{"fill":"#000000","stroke":null}}
]
}
